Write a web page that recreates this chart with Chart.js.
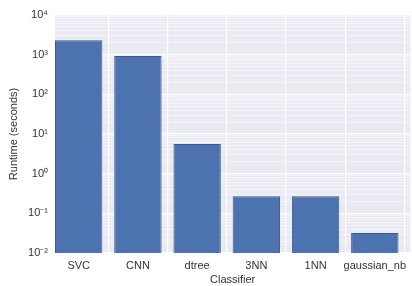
<!DOCTYPE html>
<html><head><meta charset="utf-8">
<script src="https://cdn.jsdelivr.net/npm/chart.js@4/dist/chart.umd.min.js"></script>
<style>html,body{margin:0;padding:0;background:#fff}#w{width:412px;height:286px}</style>
</head><body><div id="w"><canvas id="c" width="412" height="286"></canvas></div>
<script>
const categories = ['SVC', 'CNN', 'dtree', '3NN', '1NN', 'gaussian_nb'];
const runtimes = [2300, 920, 5.6, 0.27, 0.27, 0.032];
const yTickValues = [0.01, 0.1, 1, 10, 100, 1000, 10000];
const yTickLabels = ['10⁻²', '10⁻¹', '10⁰', '10¹', '10²', '10³', '10⁴'];

const bgPlugin = {
  id: 'bg',
  beforeDraw(chart) {
    const {ctx, chartArea: a} = chart;
    ctx.save();
    ctx.fillStyle = '#EAEAF2';
    ctx.fillRect(a.left, a.top, a.right - a.left, a.bottom - a.top);
    ctx.restore();
  }
};

const font = {family: "'Liberation Sans', Arial, sans-serif", size: 11};

new Chart(document.getElementById('c'), {
  type: 'bar',
  data: {
    datasets: [{
      data: runtimes.map((v, i) => ({x: i, y: v})),
      backgroundColor: '#4C72B0',
      borderColor: '#3d5a8a',
      borderWidth: 1,
      categoryPercentage: 1,
      barPercentage: 0.8
    }]
  },
  options: {
    responsive: false,
    animation: false,
    devicePixelRatio: 1,
    layout: {padding: {top: 15, right: 0, bottom: 0, left: 0}},
    plugins: {legend: {display: false}, tooltip: {enabled: false}},
    scales: {
      x: {
        type: 'linear',
        min: -0.4,
        max: 5.6,
        offset: false,
        border: {display: false},
        grid: {color: '#ffffff', lineWidth: 1.2, drawTicks: false},
        afterBuildTicks(s) { s.ticks = categories.map((_, i) => ({value: i})); },
        afterFit(s) { s.height = 33; },
        ticks: {
          font, color: '#333', padding: 6, autoSkip: false, maxRotation: 0,
          callback: (v) => categories[v] ?? ''
        },
        title: {display: true, text: 'Classifier', font, color: '#333', padding: {top: 0, bottom: -1}}
      },
      y: {
        type: 'logarithmic',
        min: 0.01,
        max: 10000,
        border: {display: false},
        afterBuildTicks(s) {
          const t = [];
          for (let e = -2; e <= 4; e++) {
            for (let m = 1; m <= 9; m++) {
              const v = m * Math.pow(10, e);
              if (v > 10000) break;
              t.push({value: v, major: m === 1});
            }
          }
          s.ticks = t;
        },
        afterFit(s) { s.width = 55; },
        grid: {
          drawTicks: false,
          color: (c) => (c.tick && c.tick.major) ? '#ffffff' : 'rgba(255,255,255,0.75)',
          lineWidth: (c) => (c.tick && c.tick.major) ? 1.2 : 0.7
        },
        ticks: {
          font, color: '#333', padding: 7, autoSkip: false,
          callback: function(v) {
            const idx = yTickValues.findIndex(t => Math.abs(Math.log10(t) - Math.log10(v)) < 1e-6);
            return idx >= 0 ? yTickLabels[idx] : '';
          }
        },
        title: {display: true, text: 'Runtime (seconds)', font, color: '#333', padding: {top: 7, bottom: 0}}
      }
    }
  },
  plugins: [bgPlugin]
});
</script>
</body></html>
